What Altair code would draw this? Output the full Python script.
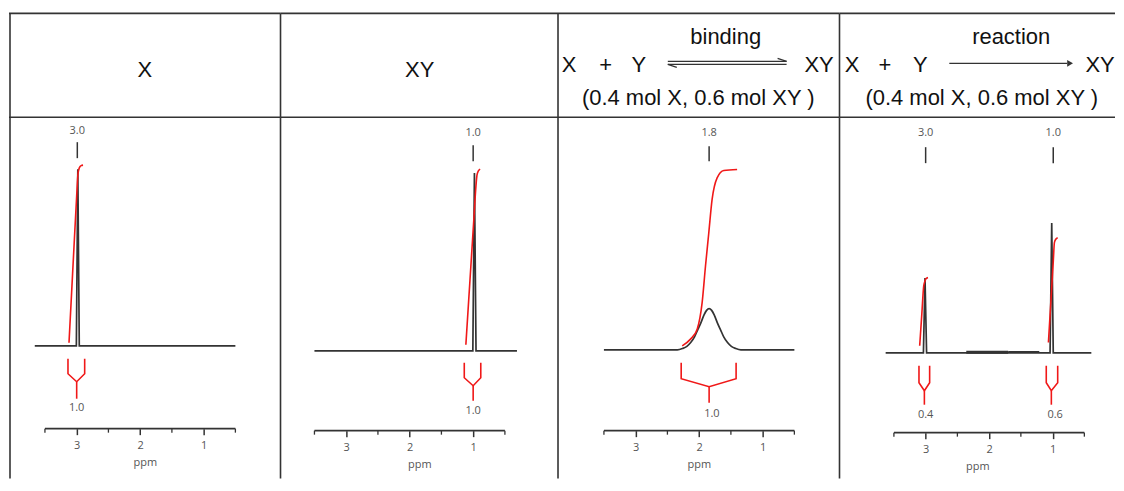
import altair as alt
import pandas as pd

# ---------------- values ----------------
# Panel 1 : X
X_SPEC_PPM = [3.66, 3.005, 2.982, 2.959, 0.50]
X_SPEC_INT = [0, 0, 177, 0, 0]
X_INTG_PPM = [[3.121, 3.08, 3.04, 3.00, 2.98, 2.96, 2.93, 2.90]]
X_INTG_VAL = [[3, 53, 102, 150, 172, 178, 180.5, 181]]
X_SHIFTS = [2.99]
X_SHIFT_LABELS = ["3.0"]
X_RANGES = [[3.137, 3.00, 2.874]]
X_AREA_POS = [3.00]
X_AREA_LABELS = ["1.0"]

# Panel 2 : XY
XY_SPEC_PPM = [3.50, 1.005, 0.980, 0.955, 0.31]
XY_SPEC_INT = [0, 0, 178, 0, 0]
XY_INTG_PPM = [[1.115, 1.07, 1.03, 0.99, 0.955, 0.94, 0.92, 0.89]]
XY_INTG_VAL = [[6, 51, 91, 131, 166, 176, 180, 182]]
XY_SHIFTS = [1.0]
XY_SHIFT_LABELS = ["1.0"]
XY_RANGES = [[1.14, 1.00, 0.88]]
XY_AREA_POS = [1.0]
XY_AREA_LABELS = ["1.0"]

# Panel 3 : binding (fast exchange, averaged signal)
BIND_SPEC_PPM = [3.50, 2.343, 2.263, 2.193, 2.133, 2.073, 2.023, 1.973, 1.923, 1.883,
                 1.843, 1.803, 1.763, 1.713, 1.663, 1.613, 1.553, 1.493, 1.423, 1.343, 0.50]
BIND_SPEC_INT = [0, 0, 1.3, 3.5, 7.3, 13, 20, 27, 35, 39.5,
                 41.3, 39.5, 35, 27, 20, 13, 7.3, 3.5, 1.3, 0, 0]
BIND_INTG_PPM = [[2.267, 2.136, 2.031, 1.953, 1.90, 1.848, 1.796, 1.717, 1.612, 1.402]]
BIND_INTG_VAL = [[4, 10.7, 20.7, 47.3, 84, 117.3, 150.7, 172.3, 179.7, 180.7]]
BIND_SHIFTS = [1.843]
BIND_SHIFT_LABELS = ["1.8"]
BIND_RANGES = [[2.283, 1.843, 1.418]]
BIND_AREA_POS = [1.80]
BIND_AREA_LABELS = ["1.0"]

# Panel 4 : reaction (two separate signals)
RXN_SPEC_PPM = [3.63, 3.035, 3.010, 2.985, 1.040, 1.014, 0.990, 0.39]
RXN_SPEC_INT = [0, 0, 75, 0, 0, 130, 0, 0]
RXN_INTG_PPM = [[3.094, 3.06, 3.03, 3.01, 2.99, 2.963],
                [1.066, 1.03, 0.99, 0.972, 0.95, 0.92]]
RXN_INTG_VAL = [[7, 39, 67, 72, 74.5, 75.3],
                [10.3, 48.6, 91, 110.3, 113.8, 115.3]]
RXN_SHIFTS = [3.0, 0.99]
RXN_SHIFT_LABELS = ["3.0", "1.0"]
RXN_RANGES = [[3.105, 3.02, 2.937], [1.10, 1.02, 0.92]]
RXN_AREA_POS = [3.0, 0.96]
RXN_AREA_LABELS = ["0.4", "0.6"]
RXN_BASE_SEG_FROM = [2.36, 1.70]
RXN_BASE_SEG_TO = [1.70, 1.21]
RXN_BASE_SEG_LEVEL = [0.5, 1.0]

AXIS_MAJOR = [3, 2, 1]
AXIS_MINOR = [3.5, 2.5, 1.5, 0.5]

# header texts
HEAD_X = ["X"]
HEAD_XY = ["XY"]
HEAD_BIND = ["X", "+", "Y", "XY", "binding", "(0.4 mol X, 0.6 mol XY )"]
HEAD_RXN = ["X", "+", "Y", "XY", "reaction", "(0.4 mol X, 0.6 mol XY )"]

# ---------------- layout (pixels) ----------------
HEAD_TOP = 12
HEAD_H = 104
BODY_TOP = HEAD_TOP + HEAD_H
BODY_H = 362
PX_PER_PPM = 63.6

LINE = "#333333"
RED = "#f01818"
GRAY = "#555555"
SMALL_FONT = "Open Sans"
BIG_FONT = "Liberation Sans"

LAYOUT = [
    dict(left=8, width=272, ax_px=44.0, base=345, label=130, mk=(141, 157), arm=(358, 373),
         ctr=381, stem=398, alab=407, axis=428, border=1),
    dict(left=280, width=278, ax_px=314.0, base=350, label=132, mk=(144, 160), arm=(362, 377),
         ctr=385, stem=400, alab=410, axis=430, border=0),
    dict(left=558, width=282, ax_px=604.0, base=349, label=132, mk=(145, 160), arm=(362, 378),
         ctr=386, stem=402, alab=413, axis=430, border=0),
    dict(left=840, width=276, ax_px=894.5, base=352, label=132, mk=(146, 162), arm=(365, 382),
         ctr=390, stem=404, alab=414, axis=432, border=0),
]

HEAD_POS = [
    [(144, 76)],
    [(419.5, 76)],
    [(569, 71), (605.7, 71), (639, 71), (819.5, 71), (726, 43), (698.5, 104)],
    [(852.5, 71), (885.4, 71), (921, 71), (1101, 71), (1012, 43), (982.5, 104)],
]
# arrow strokes (x1, y1, x2, y2) absolute pixels
HEAD_ARROWS = [
    [],
    [],
    [(668, 60, 787, 60), (787, 60, 778, 57), (668, 63, 787, 63), (668, 63, 677, 66)],
    [(950, 62, 1068, 62)],
]
HEAD_TIPS = [[], [], [], [(1071, 62)]]


def body_panel(L, spec_ppm, spec_int, intg_ppm, intg_val, shifts, shift_labels,
               ranges, area_pos, area_labels, smooth=False, base_segs=None):
    k = PX_PER_PPM
    x0 = 3.5 + (L["ax_px"] - L["left"]) / k
    x1 = x0 - L["width"] / k
    xs = alt.Scale(domain=[x0, x1], nice=False, zero=False)
    base = L["base"]
    bottom = BODY_TOP + BODY_H
    ys = alt.Scale(domain=[base - bottom, base - BODY_TOP], nice=False, zero=False)

    def v(row):
        return base - row

    axis = alt.Axis(values=AXIS_MAJOR, format="d", title="ppm", domain=False, grid=False,
                    tickSize=6, tickWidth=1.5, tickColor=LINE,
                    labelFont=SMALL_FONT, labelFontSize=11, labelColor=GRAY, labelPadding=5,
                    titleFont=SMALL_FONT, titleFontSize=11, titleFontWeight="normal",
                    titleColor=GRAY, titlePadding=6, offset=L["axis"] - bottom)

    def X(f="ppm"):
        return alt.X(f"{f}:Q", scale=xs, axis=axis)

    def Y(f="v"):
        return alt.Y(f"{f}:Q", scale=ys, axis=None)

    layers = []
    if base_segs:
        for (a, b, lev, w) in base_segs:
            layers.append(alt.Chart(pd.DataFrame(dict(ppm=[a], ppm2=[b], v=[lev])))
                          .mark_rule(color=LINE, strokeWidth=w)
                          .encode(x=X(), x2="ppm2:Q", y=Y()))
    spec = pd.DataFrame(dict(ppm=spec_ppm, v=spec_int, i=list(range(len(spec_ppm)))))
    layers.append(alt.Chart(spec).mark_line(color=LINE, strokeWidth=1.7,
                                            interpolate="monotone" if smooth else "linear")
                  .encode(x=X(), y=Y(), order="i:Q"))
    rows = []
    for s, (pp, vv) in enumerate(zip(intg_ppm, intg_val)):
        for i, (a, b) in enumerate(zip(pp, vv)):
            rows.append(dict(seg=s, i=i, ppm=a, v=b))
    layers.append(alt.Chart(pd.DataFrame(rows))
                  .mark_line(color=RED, strokeWidth=1.6, interpolate="monotone")
                  .encode(x=X(), y=Y(), detail="seg:N", order="i:Q"))
    mk = pd.DataFrame(dict(ppm=shifts, v=[v(L["mk"][0])] * len(shifts),
                           v2=[v(L["mk"][1])] * len(shifts)))
    layers.append(alt.Chart(mk).mark_rule(color=LINE, strokeWidth=1.5)
                  .encode(x=X(), y=Y(), y2="v2:Q"))
    sl = pd.DataFrame(dict(ppm=shifts, v=[v(L["label"])] * len(shifts), t=shift_labels))
    layers.append(alt.Chart(sl).mark_text(font=SMALL_FONT, fontSize=11, color=GRAY,
                                          align="center", baseline="middle")
                  .encode(x=X(), y=Y(), text="t:N"))
    br = []
    for b, (l, c, r) in enumerate(ranges):
        pts = [(l, L["arm"][0]), (l, L["arm"][1]), (c, L["ctr"]), (r, L["arm"][1]), (r, L["arm"][0])]
        for i, (p, row) in enumerate(pts):
            br.append(dict(b=b, i=i, ppm=p, v=v(row)))
    layers.append(alt.Chart(pd.DataFrame(br)).mark_line(color=RED, strokeWidth=1.6)
                  .encode(x=X(), y=Y(), detail="b:N", order="i:Q"))
    stem = pd.DataFrame(dict(ppm=[c for (_, c, _) in ranges], v=[v(L["ctr"])] * len(ranges),
                             v2=[v(L["stem"])] * len(ranges)))
    layers.append(alt.Chart(stem).mark_rule(color=RED, strokeWidth=1.6)
                  .encode(x=X(), y=Y(), y2="v2:Q"))
    al = pd.DataFrame(dict(ppm=area_pos, v=[v(L["alab"])] * len(area_pos), t=area_labels))
    layers.append(alt.Chart(al).mark_text(font=SMALL_FONT, fontSize=11, color=GRAY,
                                          align="center", baseline="middle")
                  .encode(x=X(), y=Y(), text="t:N"))
    axl = pd.DataFrame(dict(ppm=[AXIS_MINOR[0]], ppm2=[AXIS_MINOR[-1]], v=[v(L["axis"])]))
    layers.append(alt.Chart(axl).mark_rule(color=LINE, strokeWidth=1.8)
                  .encode(x=X(), x2="ppm2:Q", y=Y()))
    mn = pd.DataFrame(dict(ppm=AXIS_MINOR, v=[v(L["axis"])] * len(AXIS_MINOR),
                           v2=[v(L["axis"]) - 4] * len(AXIS_MINOR)))
    layers.append(alt.Chart(mn).mark_rule(color=LINE, strokeWidth=1.3)
                  .encode(x=X(), y=Y(), y2="v2:Q"))
    layers.append(alt.Chart(pd.DataFrame(dict(a=[0]))).mark_rule(color=LINE, strokeWidth=1.6)
                  .encode(x=alt.value(L["border"]), y=alt.value(0), y2=alt.value(BODY_H)))
    return alt.layer(*layers).properties(width=L["width"], height=BODY_H)


def header_panel(L, texts, pos, arrows, tips):
    W = L["width"]
    one = pd.DataFrame(dict(a=[0]))
    layers = [
        alt.Chart(one).mark_rule(color=LINE, strokeWidth=1.6)
        .encode(x=alt.value(0), x2=alt.value(W), y=alt.value(0)),
        alt.Chart(one).mark_rule(color=LINE, strokeWidth=1.6)
        .encode(x=alt.value(0), x2=alt.value(W), y=alt.value(HEAD_H)),
        alt.Chart(one).mark_rule(color=LINE, strokeWidth=1.6)
        .encode(x=alt.value(L["border"]), y=alt.value(0), y2=alt.value(HEAD_H)),
    ]
    tdf = pd.DataFrame(dict(t=texts, px=[p[0] - L["left"] for p in pos],
                            py=[p[1] - HEAD_TOP for p in pos]))
    layers.append(alt.Chart(tdf).mark_text(font=BIG_FONT, fontSize=22, color="#111111",
                                           align="center", baseline="alphabetic")
                  .encode(x=alt.X("px:Q", scale=None, axis=None),
                          y=alt.Y("py:Q", scale=None, axis=None), text="t:N"))
    if arrows:
        adf = pd.DataFrame(dict(x1=[a[0] - L["left"] for a in arrows],
                                y1=[a[1] - HEAD_TOP for a in arrows],
                                x2=[a[2] - L["left"] for a in arrows],
                                y2=[a[3] - HEAD_TOP for a in arrows]))
        layers.append(alt.Chart(adf).mark_rule(color=LINE, strokeWidth=1.3)
                      .encode(x=alt.X("x1:Q", scale=None, axis=None), x2="x2:Q",
                              y=alt.Y("y1:Q", scale=None, axis=None), y2="y2:Q"))
    if tips:
        pdf = pd.DataFrame(dict(px=[t[0] - L["left"] for t in tips],
                                py=[t[1] - HEAD_TOP for t in tips]))
        layers.append(alt.Chart(pdf).mark_point(shape="triangle-right", filled=True,
                                                size=45, color=LINE, opacity=1)
                      .encode(x=alt.X("px:Q", scale=None, axis=None),
                              y=alt.Y("py:Q", scale=None, axis=None)))
    return alt.layer(*layers).properties(width=W, height=HEAD_H)


heads = [
    header_panel(LAYOUT[0], HEAD_X, HEAD_POS[0], HEAD_ARROWS[0], HEAD_TIPS[0]),
    header_panel(LAYOUT[1], HEAD_XY, HEAD_POS[1], HEAD_ARROWS[1], HEAD_TIPS[1]),
    header_panel(LAYOUT[2], HEAD_BIND, HEAD_POS[2], HEAD_ARROWS[2], HEAD_TIPS[2]),
    header_panel(LAYOUT[3], HEAD_RXN, HEAD_POS[3], HEAD_ARROWS[3], HEAD_TIPS[3]),
]

bodies = [
    body_panel(LAYOUT[0], X_SPEC_PPM, X_SPEC_INT, X_INTG_PPM, X_INTG_VAL, X_SHIFTS,
               X_SHIFT_LABELS, X_RANGES, X_AREA_POS, X_AREA_LABELS),
    body_panel(LAYOUT[1], XY_SPEC_PPM, XY_SPEC_INT, XY_INTG_PPM, XY_INTG_VAL, XY_SHIFTS,
               XY_SHIFT_LABELS, XY_RANGES, XY_AREA_POS, XY_AREA_LABELS),
    body_panel(LAYOUT[2], BIND_SPEC_PPM, BIND_SPEC_INT, BIND_INTG_PPM, BIND_INTG_VAL, BIND_SHIFTS,
               BIND_SHIFT_LABELS, BIND_RANGES, BIND_AREA_POS, BIND_AREA_LABELS, smooth=True),
    body_panel(LAYOUT[3], RXN_SPEC_PPM, RXN_SPEC_INT, RXN_INTG_PPM, RXN_INTG_VAL, RXN_SHIFTS,
               RXN_SHIFT_LABELS, RXN_RANGES, RXN_AREA_POS, RXN_AREA_LABELS,
               base_segs=[(RXN_BASE_SEG_FROM[0], RXN_BASE_SEG_TO[0], RXN_BASE_SEG_LEVEL[0], 3.0),
                          (RXN_BASE_SEG_FROM[1], RXN_BASE_SEG_TO[1], RXN_BASE_SEG_LEVEL[1], 1.6)]),
]

chart = (
    alt.concat(*heads, *bodies, columns=4, spacing=0, bounds="flush")
    .configure_view(strokeOpacity=0)
    .properties(padding={"left": 0, "top": 4, "right": 0, "bottom": 0}, background="white")
)

chart.save("out.html", embed_options={"renderer": "svg", "actions": False})
